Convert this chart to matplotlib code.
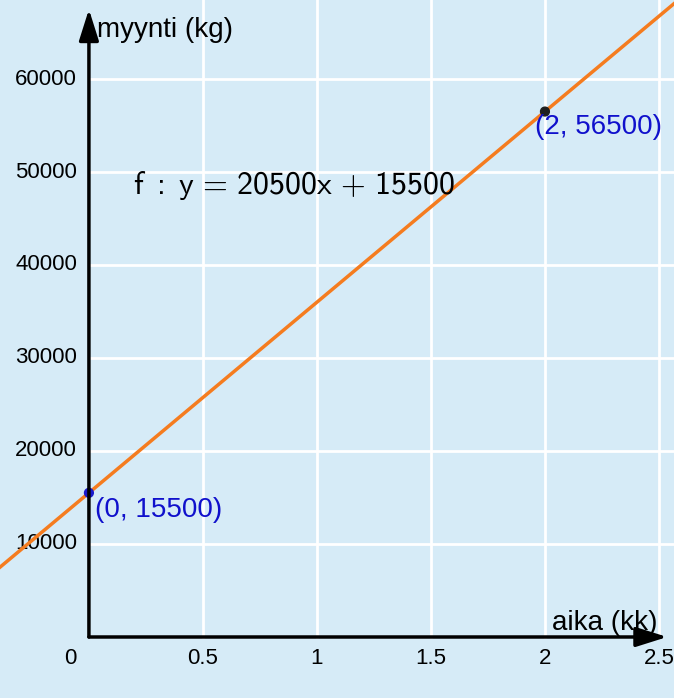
import matplotlib.pyplot as plt
from matplotlib import transforms

plt.rcParams['mathtext.fontset'] = 'custom'
plt.rcParams['mathtext.rm'] = 'cmss10'
plt.rcParams['mathtext.it'] = 'cmss10'
plt.rcParams['mathtext.sf'] = 'cmss10'

# data
px = [0, 2]
py = [15500, 56500]
pt_colors = ['#1a1acc', '#202020']
x_ticks = [0.5, 1, 1.5, 2, 2.5]
x_labels = ['0.5', '1', '1.5', '2', '2.5']
y_ticks = [10000, 20000, 30000, 40000, 50000, 60000]
y_labels = ['10000', '20000', '30000', '40000', '50000', '60000']
xmin, xmax = -0.39, 2.566
ymin, ymax = -6560, 68495

bg = '#d6ebf7'
fig = plt.figure(figsize=(6.74, 6.98), dpi=100, facecolor=bg)
ax = fig.add_axes([0, 0, 1, 1], facecolor=bg)
ax.set_xlim(xmin, xmax)
ax.set_ylim(ymin, ymax)
ax.axis('off')

# grid only in the first quadrant
for xt in x_ticks:
    ax.plot([xt, xt], [0, ymax], color='white', lw=2, zorder=1)
for yt in y_ticks:
    ax.plot([0, xmax], [yt, yt], color='white', lw=2, zorder=1)

# axes with arrows
arr = dict(arrowstyle='-|>,head_length=1.9,head_width=0.6',
           color='black', lw=2.5, shrinkA=0, shrinkB=0)
ax.annotate('', xy=(xmax - 0.03, 0), xytext=(0, 0), arrowprops=arr, zorder=7)
ax.annotate('', xy=(0, ymax - 1000), xytext=(0, 0), arrowprops=arr, zorder=7)

lab = dict(fontsize=16, family='Liberation Sans', color='black')
for xt, s in zip(x_ticks, x_labels):
    ax.text(xt, 0, s, ha='center', va='center',
            transform=ax.transData + transforms.ScaledTranslation(0, -0.22, fig.dpi_scale_trans), **lab)
ax.text(0, 0, '0', ha='center', va='center',
        transform=ax.transData + transforms.ScaledTranslation(-0.19, -0.22, fig.dpi_scale_trans), **lab)
for yt, s in zip(y_ticks, y_labels):
    ax.text(0, yt, s, ha='right', va='center',
            transform=ax.transData + transforms.ScaledTranslation(-0.12, 0, fig.dpi_scale_trans), **lab)

ax.text(0, ymax, 'myynti (kg)', ha='left', va='center', fontsize=20,
        family='Liberation Sans',
        transform=ax.transData + transforms.ScaledTranslation(0.08, -0.30, fig.dpi_scale_trans))
ax.text(xmax, 0, 'aika (kk)', ha='right', va='center', fontsize=20,
        family='Liberation Sans',
        transform=ax.transData + transforms.ScaledTranslation(-0.16, 0.14, fig.dpi_scale_trans))

# line through the two points
ax.axline((px[0], py[0]), (px[1], py[1]), color='#f57c1f', lw=2.5, zorder=4)
ax.scatter(px, py, s=40, c=pt_colors, zorder=5)

ax.text(px[0], py[0], '(0, 15500)', ha='left', va='center', fontsize=20,
        family='Liberation Sans', color='#1010cc', zorder=6,
        transform=ax.transData + transforms.ScaledTranslation(0.06, -0.17, fig.dpi_scale_trans))
ax.text(px[1], py[1], '(2, 56500)', ha='left', va='center', fontsize=20,
        family='Liberation Sans', color='#1010cc', zorder=6,
        transform=ax.transData + transforms.ScaledTranslation(-0.10, -0.15, fig.dpi_scale_trans))

ax.text(0.195, 48500, r'$\mathrm{f\ :\ y\,=\,20500x\,+\,15500}$', fontsize=23,
        ha='left', va='center', color='black', zorder=6)

fig.savefig('out.png', dpi=100, facecolor=bg)
